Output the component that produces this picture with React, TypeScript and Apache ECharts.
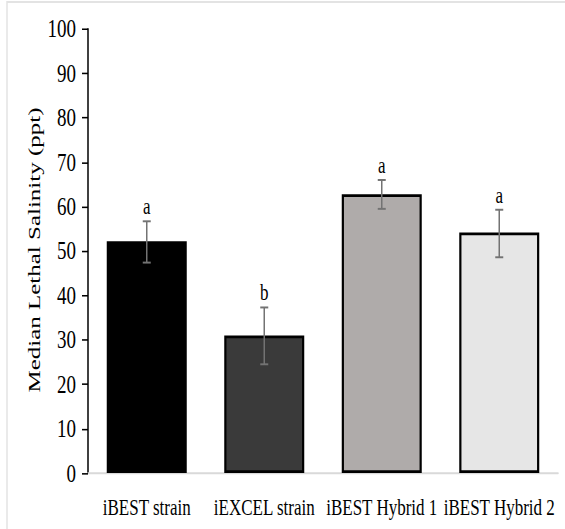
import React, { useEffect, useRef } from "react";
import * as echarts from "echarts";

const categories = ["iBEST strain", "iEXCEL strain", "iBEST Hybrid 1", "iBEST Hybrid 2"];
const meanValues = [52.2, 31.0, 62.8, 54.2];
const errLow = [47.4, 24.5, 59.5, 48.6];
const errHigh = [56.7, 37.3, 66.0, 59.3];
const letters = ["a", "b", "a", "a"];
const barColors = ["#000000", "#3a3a3a", "#afabaa", "#e6e6e6"];
const yTicks = { min: 0, max: 100, interval: 10 };
const yTitle = "Median Lethal Salinity (ppt)";

const FONT = "'Liberation Serif', 'Times New Roman', serif";
// The reference picture is stretched vertically; reproduce that with a CSS scale.
const STRETCH = 1.3;
const W = 565;
const H = 529;

export default function App() {
  const ref = useRef<HTMLDivElement>(null);
  useEffect(() => {
    if (!ref.current) return;
    const chart = echarts.init(ref.current, undefined, { renderer: "svg" });
    chart.setOption({
      animation: false,
      backgroundColor: "#ffffff",
      grid: { left: 88, right: 7, top: 29 / STRETCH, bottom: 56 / STRETCH, containLabel: false },
      xAxis: {
        type: "category",
        data: categories,
        axisLine: { show: true, lineStyle: { color: "#d9d9d9", width: 1.5 } },
        axisTick: { show: false },
        axisLabel: {
          color: "#000",
          fontFamily: FONT,
          fontSize: 17,
          margin: 18,
          interval: 0,
        },
      },
      yAxis: {
        type: "value",
        min: yTicks.min,
        max: yTicks.max,
        interval: yTicks.interval,
        splitLine: { show: false },
        axisLine: { show: true, lineStyle: { color: "#000", width: 1.5 } },
        axisTick: { show: true, length: 6, lineStyle: { color: "#000", width: 1.2 } },
        axisLabel: { color: "#000", fontFamily: FONT, fontSize: 19, margin: 12 },
      },
      graphic: [
        {
          type: "rect",
          shape: { x: 7, y: 1.5, width: 600, height: 600 },
          style: { fill: "none", stroke: "#e3e3e3", lineWidth: 1.5 },
          silent: true,
          z: -1,
        },
        {
          type: "text",
          x: 34,
          y: 250 / STRETCH,
          rotation: Math.PI / 2,
          scaleX: 1.13,
          style: {
            text: yTitle,
            fontFamily: FONT,
            fontSize: 17,
            fontWeight: "normal",
            fill: "#000",
            align: "center",
            verticalAlign: "middle",
          },
        },
      ],
      series: [
        {
          type: "bar",
          barWidth: 80,
          data: meanValues.map((v, i) => ({
            value: v,
            itemStyle: { color: barColors[i], borderColor: "#000", borderWidth: 2.2 },
          })),
        },
        {
          type: "custom",
          data: categories.map((_, i) => [i, errLow[i], errHigh[i]]),
          renderItem: (params: any, api: any) => {
            const i = api.value(0);
            const lo = api.coord([i, api.value(1)]);
            const hi = api.coord([i, api.value(2)]);
            const x = lo[0];
            const cap = 4;
            const st = { stroke: "#737373", lineWidth: 1.5 };
            return {
              type: "group",
              children: [
                { type: "line", shape: { x1: x, y1: lo[1], x2: x, y2: hi[1] }, style: st },
                { type: "line", shape: { x1: x - cap, y1: lo[1], x2: x + cap, y2: lo[1] }, style: st },
                { type: "line", shape: { x1: x - cap, y1: hi[1], x2: x + cap, y2: hi[1] }, style: st },
                {
                  type: "text",
                  x: x,
                  y: hi[1] - 3,
                  style: {
                    text: letters[params.dataIndex],
                    fontFamily: FONT,
                    fontSize: 17,
                    fill: "#000",
                    align: "center",
                    verticalAlign: "bottom",
                  },
                },
              ],
            };
          },
          z: 5,
        },
      ],
    });
    return () => chart.dispose();
  }, []);
  return (
    <div style={{ position: "fixed", left: 0, top: 0, width: W, height: H, overflow: "hidden", background: "#fff" }}>
      <div
        ref={ref}
        style={{
          width: W,
          height: H / STRETCH,
          transform: `scaleY(${STRETCH})`,
          transformOrigin: "0 0",
        }}
      />
    </div>
  );
}
